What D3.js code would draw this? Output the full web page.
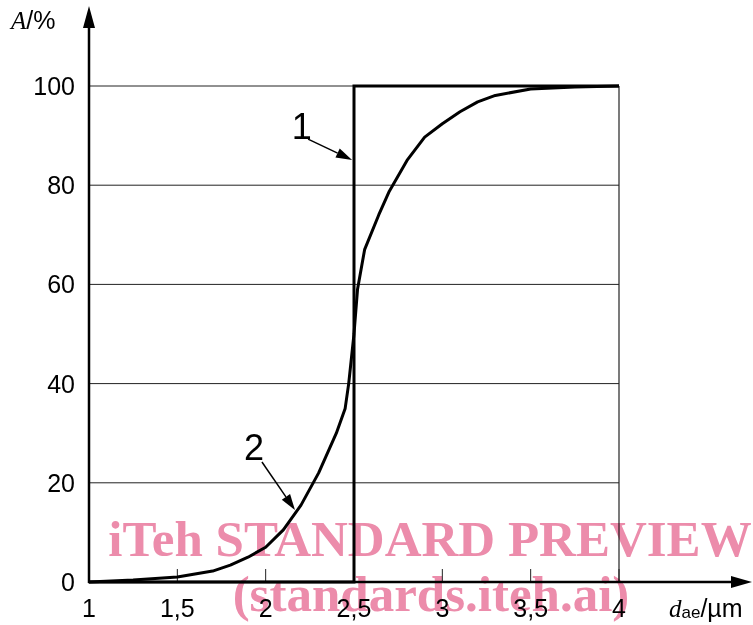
<!DOCTYPE html>
<html>
<head>
<meta charset="utf-8">
<script src="https://cdn.jsdelivr.net/npm/d3@7"></script>
<style>
  html, body { margin: 0; padding: 0; background: #fff; }
  svg { display: block; }
  text { font-family: "Liberation Sans", Arial, sans-serif; fill: #000; }
  text.banner { font-family: "Liberation Serif", "Times New Roman", serif; font-weight: bold; fill: #ec8cab; }
</style>
</head>
<body>
<svg id="chart" width="753" height="625"></svg>
<script>
// Aerodynamic diameter d_ae (µm) and cumulative fraction A (%)
const xTicks = [1, 1.5, 2, 2.5, 3, 3.5, 4];
const xTickLabels = ["1", "1,5", "2", "2,5", "3", "3,5", "4"];
const yTicks = [0, 20, 40, 60, 80, 100];
const yTickLabels = ["0", "20", "40", "60", "80", "100"];

// Curve 1: ideal sharp cut at 2,5 µm
const idealD = [1, 2.5, 2.5, 4];
const idealA = [0, 0, 100, 100];

// Curve 2: real separator efficiency
const realD = [1.0, 1.25, 1.5, 1.7, 1.8, 1.9, 2.0, 2.1, 2.2, 2.3, 2.4, 2.45, 2.47, 2.5, 2.52, 2.56, 2.64, 2.7, 2.8, 2.9, 3.0, 3.1, 3.2, 3.3, 3.5, 3.75, 4.0];
const realA = [0, 0.4, 1.0, 2.2, 3.4, 5.0, 7.0, 10.5, 15.5, 22, 30, 35, 40, 50, 59, 67, 74, 78.8, 85, 89.7, 92.4, 94.8, 96.8, 98.1, 99.4, 99.8, 100];

// Callouts: label, text anchor, arrow start and arrow tip, in data units
const calloutNames = ["1", "2"];
const calloutText = [[2.205, 89.4], [1.934, 24.6]];
const calloutFrom = [[2.24, 89.3], [1.979, 24.2]];
const calloutTo = [[2.489, 85.1], [2.166, 14.5]];

const bannerLines = ["iTeh STANDARD PREVIEW", "(standards.iteh.ai)"];

const svg = d3.select("#chart");
const x = d3.scaleLinear().domain([1, 4]).range([89, 619]);
const y = d3.scaleLinear().domain([0, 100]).range([582, 86]);

// grid
svg.append("g").selectAll("line").data(yTicks.filter(d => d > 0)).join("line")
  .attr("x1", x(1)).attr("x2", x(4))
  .attr("y1", d => y(d)).attr("y2", d => y(d))
  .attr("stroke", "#222").attr("stroke-width", 1);
svg.append("line")
  .attr("x1", x(4)).attr("x2", x(4)).attr("y1", y(0)).attr("y2", y(100))
  .attr("stroke", "#222").attr("stroke-width", 1.2);

// x ticks (inside, upward)
svg.append("g").selectAll("line").data(xTicks).join("line")
  .attr("x1", d => x(d)).attr("x2", d => x(d))
  .attr("y1", y(0)).attr("y2", y(0) - 13)
  .attr("stroke", "#222").attr("stroke-width", 1);

// tick labels
svg.append("g").selectAll("text").data(xTicks).join("text")
  .attr("x", d => x(d)).attr("y", 617)
  .attr("text-anchor", "middle").attr("font-size", 25)
  .text((d, i) => xTickLabels[i]);
svg.append("g").selectAll("text").data(yTicks).join("text")
  .attr("x", 75).attr("y", d => y(d) + 9)
  .attr("text-anchor", "end").attr("font-size", 25)
  .text((d, i) => yTickLabels[i]);

// axes with arrowheads
svg.append("line").attr("x1", x(1)).attr("x2", x(1)).attr("y1", y(0) + 1).attr("y2", 24)
  .attr("stroke", "#000").attr("stroke-width", 2.5);
svg.append("path").attr("d", `M${x(1)},6 L${x(1) - 6},28 L${x(1) + 6},28 Z`).attr("fill", "#000");
svg.append("line").attr("x1", x(1) - 1).attr("x2", 736).attr("y1", y(0)).attr("y2", y(0))
  .attr("stroke", "#000").attr("stroke-width", 2.5);
svg.append("path").attr("d", `M752,${y(0)} L731,${y(0) - 6} L731,${y(0) + 6} Z`).attr("fill", "#000");

// axis titles
const yt = svg.append("text").attr("x", 11).attr("y", 29).attr("font-size", 25);
yt.append("tspan").attr("font-family", "Liberation Serif, serif").attr("font-style", "italic").text("A");
yt.append("tspan").text("/%");
const xt = svg.append("text").attr("x", 669).attr("y", 617).attr("font-size", 25);
xt.append("tspan").attr("font-family", "Liberation Serif, serif").attr("font-style", "italic").text("d");
xt.append("tspan").attr("font-size", 17).attr("dy", 1).text("ae");
xt.append("tspan").attr("dy", -1).text("/µm");

// curves
const line = d3.line().x(d => x(d[0])).y(d => y(d[1]));
svg.append("path").datum(idealD.map((d, i) => [d, idealA[i]]))
  .attr("d", line).attr("fill", "none").attr("stroke", "#000")
  .attr("stroke-width", 3).attr("stroke-linejoin", "miter");
svg.append("path").datum(realD.map((d, i) => [d, realA[i]]))
  .attr("d", line).attr("fill", "none").attr("stroke", "#000")
  .attr("stroke-width", 3).attr("stroke-linejoin", "round");

// callouts
calloutNames.forEach((name, i) => {
  svg.append("text").attr("x", x(calloutText[i][0])).attr("y", y(calloutText[i][1]))
    .attr("text-anchor", "middle").attr("font-size", 36).text(name);
  const x0 = x(calloutFrom[i][0]), y0 = y(calloutFrom[i][1]);
  const x1 = x(calloutTo[i][0]), y1 = y(calloutTo[i][1]);
  const ang = Math.atan2(y1 - y0, x1 - x0);
  const L = 16, W = 5;
  const bx = x1 - L * Math.cos(ang), by = y1 - L * Math.sin(ang);
  svg.append("line").attr("x1", x0).attr("y1", y0).attr("x2", bx).attr("y2", by)
    .attr("stroke", "#000").attr("stroke-width", 1.5);
  svg.append("path")
    .attr("d", `M${x1},${y1} L${bx + W * Math.sin(ang)},${by - W * Math.cos(ang)} L${bx - W * Math.sin(ang)},${by + W * Math.cos(ang)} Z`)
    .attr("fill", "#000");
});

// overprinted banner (multiplied so black strokes stay visible)
const wm = svg.append("g").style("mix-blend-mode", "multiply");
wm.selectAll("text").data(bannerLines).join("text")
  .attr("class", "banner")
  .attr("x", (d, i) => i === 0 ? 430 : 431)
  .attr("y", (d, i) => i === 0 ? 556 : 611)
  .attr("font-size", 51).attr("text-anchor", "middle")
  .text(d => d);
</script>
</body>
</html>
